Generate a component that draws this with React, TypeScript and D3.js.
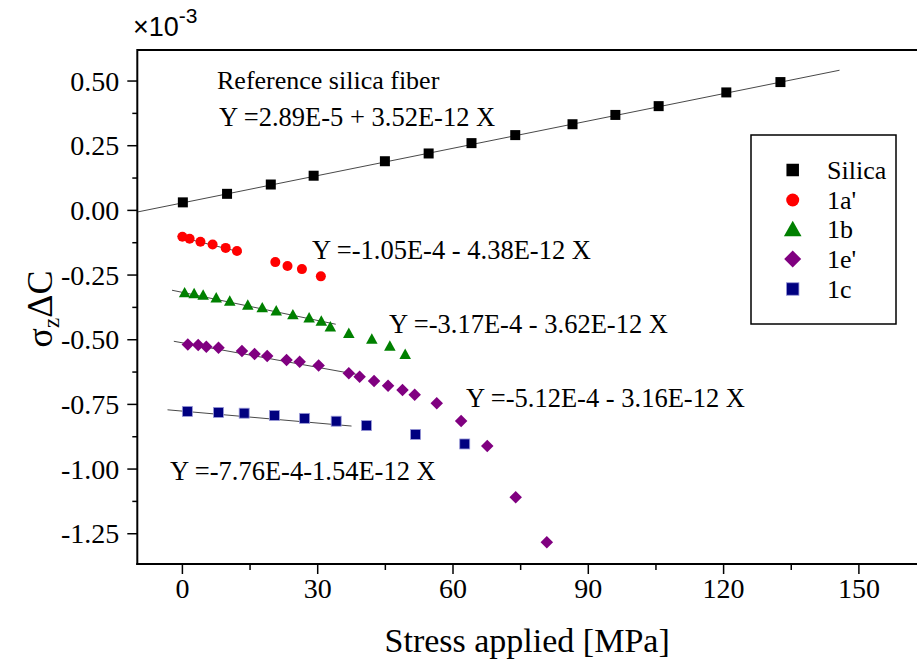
import React from 'react';
import * as d3 from 'd3';

const W = 917;
const H = 666;

// axis ticks
const xTicks = [0, 30, 60, 90, 120, 150];
const xMinor = [15, 45, 75, 105, 135];
const yTicks = [-1.25, -1.0, -0.75, -0.5, -0.25, 0, 0.25, 0.5];
const yMinor = [-1.125, -0.875, -0.625, -0.375, -0.125, 0.125, 0.375];

// series
const seriesNames = ['Silica', "1a'", '1b', "1e'", '1c'];
const seriesColors = ['#000000', '#ff0000', '#008000', '#800080', '#000080'];
const seriesShapes = ['square', 'circle', 'triangle', 'diamond', 'square'];

const silicaX = [0.1, 9.9, 19.6, 29.1, 44.9, 54.6, 64.1, 73.8, 86.5, 96.0, 105.6, 120.6, 132.6];
const silicaY = [0.031, 0.064, 0.1, 0.134, 0.19, 0.22, 0.26, 0.291, 0.333, 0.369, 0.403, 0.456, 0.496];

const a1X = [0, 1.6, 4.0, 6.7, 9.6, 12.1, 20.6, 23.3, 26.5, 30.7];
const a1Y = [-0.102, -0.11, -0.121, -0.132, -0.145, -0.157, -0.2, -0.215, -0.227, -0.255];

const b1X = [0.5, 2.6, 4.6, 7.5, 10.5, 14.5, 17.7, 20.8, 24.5, 28.1, 30.8, 32.8, 36.9, 42.0, 46.0, 49.4];
const b1Y = [-0.318, -0.321, -0.327, -0.338, -0.35, -0.366, -0.376, -0.388, -0.403, -0.415, -0.428, -0.45, -0.475, -0.497, -0.524, -0.556];

const e1X = [1.2, 3.5, 5.3, 8.0, 13.2, 16.0, 18.8, 23.1, 26.0, 30.2, 36.9, 39.3, 42.5, 45.6, 48.8, 51.5, 56.4, 61.8, 67.6, 73.9, 80.8];
const e1Y = [-0.518, -0.52, -0.527, -0.531, -0.544, -0.555, -0.563, -0.578, -0.585, -0.6, -0.63, -0.643, -0.66, -0.678, -0.694, -0.713, -0.746, -0.814, -0.911, -1.109, -1.283];

const c1X = [1.1, 8.0, 13.7, 20.4, 27.1, 34.1, 40.8, 51.7, 62.6];
const c1Y = [-0.777, -0.781, -0.784, -0.793, -0.804, -0.815, -0.832, -0.866, -0.903];

const seriesX = [silicaX, a1X, b1X, e1X, c1X];
const seriesY = [silicaY, a1Y, b1Y, e1Y, c1Y];

// linear fits shown on the chart (Y in 1e-3, X in MPa)
const fitA = [0.0289, -0.105, -0.317, -0.512, -0.776];
const fitB = [0.00352, -0.00438, -0.00362, -0.00316, -0.00154];
const fitFrom = [-10, -1.1, -2.3, -1.9, -3.3];
const fitTo = [145.7, 13.1, 34, 40, 37.5];

const eqLabels = [
  'Y =2.89E-5 + 3.52E-12 X',
  'Y =-1.05E-4 - 4.38E-12 X',
  'Y =-3.17E-4 - 3.62E-12 X',
  'Y =-5.12E-4 - 3.16E-12 X',
  'Y =-7.76E-4-1.54E-12 X',
];
const eqPos = [
  [219, 126],
  [312, 259],
  [389, 333],
  [466, 407],
  [170, 480],
];

const SERIF = "'Liberation Serif', 'Times New Roman', serif";
const SANS = "'Liberation Sans', Arial, sans-serif";

function Marker({ shape, cx, cy, s, color }: { shape: string; cx: number; cy: number; s: number; color: string }) {
  if (shape === 'square') {
    const isNavy = color === '#000080';
    return (
      <rect
        x={cx - s / 2}
        y={cy - s / 2}
        width={s}
        height={s}
        fill={color}
        stroke={isNavy ? '#9a9ad8' : 'none'}
        strokeWidth={isNavy ? 0.8 : 0}
      />
    );
  }
  if (shape === 'circle') {
    return <circle cx={cx} cy={cy} r={s / 2} fill={color} />;
  }
  if (shape === 'triangle') {
    const w = s * 1.1;
    const h = s * 0.9;
    return (
      <path
        d={`M${cx},${cy - h / 2 - 1}L${cx + w / 2},${cy + h / 2}L${cx - w / 2},${cy + h / 2}Z`}
        fill={color}
      />
    );
  }
  const r = s / 2;
  return <path d={`M${cx},${cy - r}L${cx + r},${cy}L${cx},${cy + r}L${cx - r},${cy}Z`} fill={color} />;
}

const plotSizes = [10, 10, 10.5, 12.5, 10];
const legendSizes = [12.5, 13, 16, 17, 12.5];

export default function App() {
  const x = d3.scaleLinear().domain([-10, 165]).range([137.3, 137.3 + 175 * 4.51]);
  const y = d3.scaleLinear().domain([-1.367, 0.62]).range([564, 50]);
  const x0 = x(-10);
  const xEnd = W + 2;
  const yTop = y(0.62);
  const yBot = y(-1.367);

  const legendRows = [170, 200, 229, 259, 289];

  return (
    <svg
      width={W}
      height={H}
      viewBox={`0 0 ${W} ${H}`}
      style={{ position: 'absolute', left: 0, top: 0, background: '#fff' }}
    >
      <rect x={0} y={0} width={W} height={H} fill="#fff" />

      {/* fit lines */}
      {fitA.map((a, i) => (
        <line
          key={'fit' + i}
          x1={x(fitFrom[i])}
          y1={y(a + fitB[i] * fitFrom[i])}
          x2={x(fitTo[i])}
          y2={y(a + fitB[i] * fitTo[i])}
          stroke="#333"
          strokeWidth={0.9}
        />
      ))}

      {/* markers */}
      {seriesX.map((xs, si) =>
        xs.map((xv, j) => (
          <Marker
            key={si + '-' + j}
            shape={seriesShapes[si]}
            cx={x(xv)}
            cy={y(seriesY[si][j])}
            s={plotSizes[si]}
            color={seriesColors[si]}
          />
        ))
      )}

      {/* frame */}
      <line x1={x0} y1={yTop} x2={xEnd} y2={yTop} stroke="#000" strokeWidth={2} />
      <line x1={x0} y1={yTop - 1} x2={x0} y2={yBot + 1} stroke="#000" strokeWidth={2} />
      <line x1={x0 - 1} y1={yBot} x2={xEnd} y2={yBot} stroke="#000" strokeWidth={2} />

      {/* x ticks */}
      {xTicks.map((t) => (
        <g key={'xt' + t}>
          <line x1={x(t)} y1={yBot} x2={x(t)} y2={yBot + 10} stroke="#000" strokeWidth={1.5} />
          <text x={x(t)} y={yBot + 34} textAnchor="middle" fontFamily={SERIF} fontSize={28}>
            {t}
          </text>
        </g>
      ))}
      {xMinor.map((t) => (
        <line key={'xm' + t} x1={x(t)} y1={yBot} x2={x(t)} y2={yBot + 6} stroke="#000" strokeWidth={1.5} />
      ))}

      {/* y ticks */}
      {yTicks.map((t) => (
        <g key={'yt' + t}>
          <line x1={x0} y1={y(t)} x2={x0 - 10} y2={y(t)} stroke="#000" strokeWidth={1.5} />
          <text x={x0 - 18} y={y(t) + 9.5} textAnchor="end" fontFamily={SERIF} fontSize={28}>
            {d3.format('.2f')(t).replace('−', '-')}
          </text>
        </g>
      ))}
      {yMinor.map((t) => (
        <line key={'ym' + t} x1={x0} y1={y(t)} x2={x0 - 5} y2={y(t)} stroke="#000" strokeWidth={1.5} />
      ))}

      {/* exponent */}
      <text x={133} y={36} fontFamily={SANS} fontSize={27}>
        ×10
        <tspan dy={-13} fontSize={21}>
          -3
        </tspan>
      </text>

      {/* axis titles */}
      <text x={(x0 + W) / 2} y={652} textAnchor="middle" fontFamily={SERIF} fontSize={34}>
        Stress applied [MPa]
      </text>
      <text transform={`translate(52,${(yTop + yBot) / 2 + 2}) rotate(-90)`} textAnchor="middle" fontFamily={SERIF} fontSize={36}>
        σ
        <tspan dy={7} fontSize={23}>
          z
        </tspan>
        <tspan dy={-7}>ΔC</tspan>
      </text>

      {/* annotations */}
      <text x={217} y={89} fontFamily={SERIF} fontSize={26}>
        Reference silica fiber
      </text>
      {eqLabels.map((t, i) => (
        <text key={'eq' + i} x={eqPos[i][0]} y={eqPos[i][1]} fontFamily={SERIF} fontSize={26.5}>
          {t}
        </text>
      ))}

      {/* legend */}
      <rect x={751} y={135} width={145} height={189} fill="#fff" stroke="#000" strokeWidth={1.5} />
      {seriesNames.map((n, i) => (
        <g key={'lg' + i}>
          <Marker shape={seriesShapes[i]} cx={792.7} cy={legendRows[i]} s={legendSizes[i]} color={seriesColors[i]} />
          <text x={827} y={legendRows[i] + 9} fontFamily={SERIF} fontSize={26}>
            {n}
          </text>
        </g>
      ))}
    </svg>
  );
}
